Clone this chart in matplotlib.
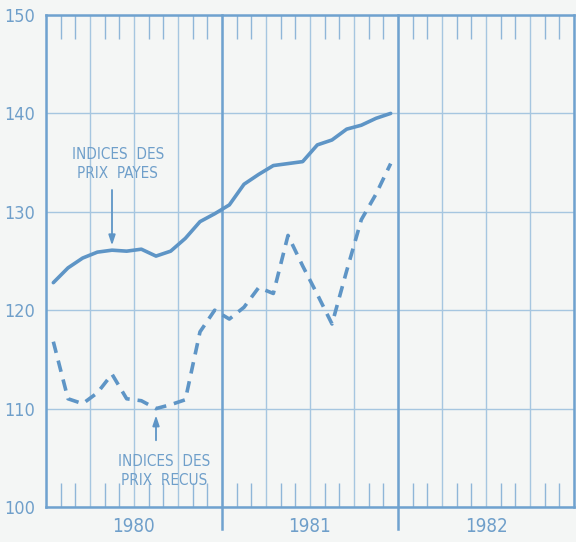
import matplotlib
matplotlib.use("Agg")
import matplotlib.pyplot as plt
import matplotlib.transforms as mtransforms
import numpy as np

# monthly index values, Jan 1980 .. Dec 1981
months = np.arange(24) + 0.5
prix_payes = [122.8, 124.3, 125.3, 125.9, 126.1, 126.0, 126.2, 125.5, 126.0, 127.3, 129.0, 129.8,
              130.7, 132.8, 133.8, 134.7, 134.9, 135.1, 136.8, 137.3, 138.4, 138.8, 139.5, 140.0]
prix_recus = [116.8, 111.0, 110.5, 111.6, 113.5, 111.0, 110.8, 110.0, 110.4, 110.9, 117.8, 120.0,
              119.1, 120.3, 122.3, 121.7, 127.6, 124.5, 121.6, 118.6, 124.0, 129.2, 131.8, 134.9]
years = ["1980", "1981", "1982"]
y_ticks = [100, 110, 120, 130, 140, 150]

LINE = "#5e95c6"
GRID = "#a6c6e0"
TICK = "#8fb6d8"
FRAME = "#6fa2cf"
TEXT = "#6f9fca"
BG = "#f4f6f5"

plt.rcParams['font.family'] = ['DejaVu Sans']
plt.rcParams['font.stretch'] = 'condensed'

fig = plt.figure(figsize=(5.76, 5.42), dpi=100, facecolor=BG)
ax = fig.add_axes([46 / 576, 1 - 507 / 542, 528 / 576, 492 / 542])
ax.set_facecolor(BG)

ax.set_xlim(0, 36)
ax.set_ylim(100, 150)

# grid: quarters and horizontal lines
ax.set_xticks(np.arange(0, 37, 3))
ax.set_xticks(np.arange(0, 37, 1), minor=True)
ax.set_yticks(y_ticks)
ax.grid(True, which="major", color=GRID, linewidth=1.0)
ax.tick_params(axis="x", which="major", length=0, labelbottom=False)
ax.tick_params(axis="x", which="minor", direction="in", top=True, bottom=True,
               length=17, width=1.0, color=TICK)
ax.tick_params(axis="y", length=0, labelsize=13, labelcolor=TEXT, pad=8)

for sp in ax.spines.values():
    sp.set_color(FRAME)
    sp.set_linewidth(1.8)

# year dividers
for xv in [12, 24]:
    ax.axvline(xv, ymin=-0.045, ymax=1, color=FRAME, linewidth=1.8, clip_on=False)

trans = mtransforms.blended_transform_factory(ax.transData, ax.transAxes)
for i, yr in enumerate(years):
    ax.text(12 * i + 6, -0.04, yr, transform=trans, ha="center", va="center",
            fontsize=13.5, color=TEXT)

ax.plot(months, prix_payes, color=LINE, linewidth=2.6, solid_capstyle="round")
ax.plot(months, prix_recus, color=LINE, linewidth=2.6, linestyle=(0, (3.2, 2.2)))

ax.text(4.9, 135.8, "INDICES  DES", ha="center", va="center", fontsize=11, color=TEXT)
ax.text(4.9, 133.9, "PRIX  PAYES", ha="center", va="center", fontsize=11, color=TEXT)
ax.annotate("", xy=(4.5, 126.3), xytext=(4.5, 132.5),
            arrowprops=dict(arrowstyle="-|>,head_length=0.6,head_width=0.2", color=LINE, lw=1.3))

ax.text(8.05, 104.6, "INDICES  DES", ha="center", va="center", fontsize=11, color=TEXT)
ax.text(8.05, 102.7, "PRIX  RECUS", ha="center", va="center", fontsize=11, color=TEXT)
ax.annotate("", xy=(7.5, 109.6), xytext=(7.5, 106.5),
            arrowprops=dict(arrowstyle="-|>,head_length=0.6,head_width=0.2", color=LINE, lw=1.3))

fig.savefig("out.png", dpi=100, facecolor=BG)
